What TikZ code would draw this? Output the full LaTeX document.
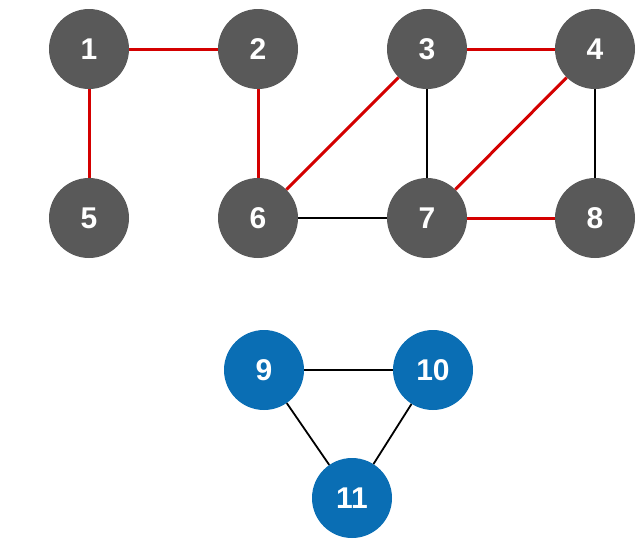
\documentclass[tikz,border=0pt]{standalone}
\usepackage{fontspec}
\setmainfont{Liberation Sans}
\definecolor{nodegray}{HTML}{595959}
\definecolor{nodeblue}{HTML}{0A6EB4}
\definecolor{edgered}{HTML}{D40000}
\begin{document}
\begin{tikzpicture}[x=1pt,y=-1pt,
  gnode/.style={circle,fill=nodegray,minimum size=80pt,inner sep=0pt,text=white,font=\fontsize{30}{32}\selectfont\bfseries},
  bnode/.style={gnode,fill=nodeblue},
  redge/.style={draw=edgered,line width=3pt},
  kedge/.style={draw=black,line width=1.8pt}]
\useasboundingbox (0,0) rectangle (641,552);
\node[gnode] (n1) at (89,49) {1};
\node[gnode] (n2) at (258,49) {2};
\node[gnode] (n3) at (427,49) {3};
\node[gnode] (n4) at (595,49) {4};
\node[gnode] (n5) at (89,218) {5};
\node[gnode] (n6) at (258,218) {6};
\node[gnode] (n7) at (427,218) {7};
\node[gnode] (n8) at (595,218) {8};
\node[bnode] (n9) at (264,370) {9};
\node[bnode] (n10) at (433,370) {10};
\node[bnode] (n11) at (352,498) {11};
\draw[redge] (n1) -- (n2);
\draw[redge] (n1) -- (n5);
\draw[redge] (n2) -- (n6);
\draw[redge] (n6) -- (n3);
\draw[redge] (n3) -- (n4);
\draw[redge] (n7) -- (n4);
\draw[redge] (n7) -- (n8);
\draw[kedge] (n3) -- (n7);
\draw[kedge] (n6) -- (n7);
\draw[kedge] (n4) -- (n8);
\draw[kedge] (n9) -- (n10);
\draw[kedge] (n9) -- (n11);
\draw[kedge] (n10) -- (n11);
\end{tikzpicture}
\end{document}
